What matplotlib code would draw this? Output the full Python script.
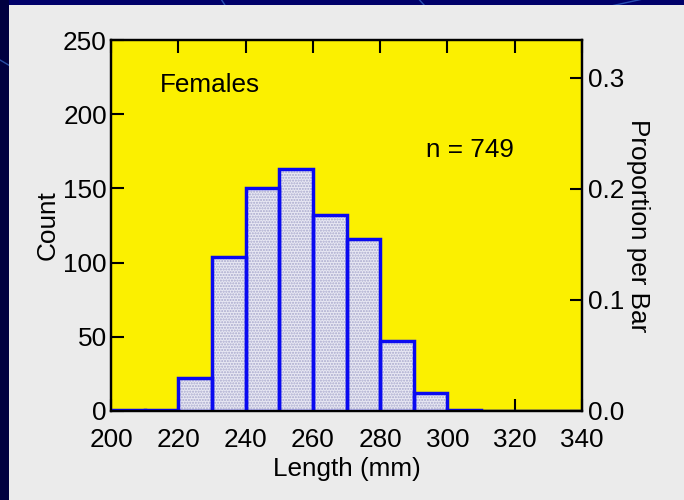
import matplotlib
matplotlib.use("Agg")
import matplotlib.pyplot as plt
from matplotlib import font_manager
from matplotlib.patches import Rectangle
from matplotlib.lines import Line2D
import numpy as np

# Female length histogram, 10 mm bins
bin_left = [200, 210, 220, 230, 240, 250, 260, 270, 280, 290, 300, 310, 320, 330]
counts = [1, 1, 22, 104, 150, 163, 132, 116, 47, 12, 1, 0, 0, 0]
bin_width = 10
x_ticks = [200, 220, 240, 260, 280, 300, 320, 340]
count_ticks = [0, 50, 100, 150, 200, 250]
prop_ticks = [0.0, 0.1, 0.2, 0.3]
group_label = "Females"
n_total = sum(counts)

available = {f.name for f in font_manager.fontManager.ttflist}
if "Liberation Sans Narrow" in available:
    family, fs = "Liberation Sans Narrow", 21
else:
    family, fs = "Liberation Sans", 18.8
plt.rcParams["font.family"] = family

W, H = 684, 500
fig = plt.figure(figsize=(W / 100, H / 100), dpi=100)
fig.patch.set_facecolor("#00006a")

# slide backdrop: faint streaks behind a light grey panel
for x0, x1, y0, y1 in [(0.30, 0.42, 1.05, 0.80), (0.60, 0.68, 1.02, 0.90),
                       (0.0, 0.05, 0.88, 0.84), (1.0, 0.80, 1.02, 0.96)]:
    fig.add_artist(Line2D([x0, x1], [y0, y1], transform=fig.transFigure,
                          color="#3a6fd0", lw=1.0, alpha=0.7, zorder=-2))
fig.add_artist(Rectangle((0, 0), 9 / W, 1, transform=fig.transFigure,
                         facecolor="#000040", edgecolor="none", zorder=-3))
fig.add_artist(Rectangle((9 / W, 0), 1 - 9 / W, 1 - 5 / H, transform=fig.transFigure,
                         facecolor="#ebebeb", edgecolor="none", zorder=-1))

left, right, top, bottom = 111, 582, 40, 411
ax = fig.add_axes([left / W, 1 - bottom / H, (right - left) / W, (bottom - top) / H])
ax.set_facecolor("#fbf000")
ax.set_axisbelow(True)

# bar fill, stipple texture, then blue outlines
ax.bar(bin_left, counts, width=bin_width, align="edge", color="#e8e8f3",
       edgecolor="none", linewidth=0, zorder=3)
ax.bar(bin_left, counts, width=bin_width, align="edge", facecolor="none",
       edgecolor="#a8a8cc", hatch="......", linewidth=0, zorder=3.1)
ax.bar(bin_left, counts, width=bin_width, align="edge", facecolor="none",
       edgecolor="#0a0af0", linewidth=2.5, zorder=3.2)

ax.set_xlim(200, 340)
ax.set_ylim(0, 250)
ax.set_xticks(x_ticks)
ax.set_yticks(count_ticks)
ax.tick_params(direction="in", length=9, width=1.5, labelsize=fs, colors="black",
               top=True, right=False)
ax.tick_params(axis="x", pad=12)
ax.tick_params(axis="y", pad=3)
for s in ax.spines.values():
    s.set_linewidth(1.6)

ax.set_xlabel("Length (mm)", fontsize=fs)
ax.set_ylabel("Count", fontsize=fs)
ax.xaxis.set_label_coords(0.5, -0.125)
ax.yaxis.set_label_coords(-0.11, 0.5)

ax.text(214.5, 220, group_label, fontsize=fs, va="center", ha="left")
ax.text(293.5, 176, f"n = {n_total}", fontsize=fs, va="center", ha="left")

ax2 = ax.twinx()
ax2.set_ylim(0, 250 / n_total)
ax2.set_yticks(prop_ticks)
ax2.set_yticklabels([f"{v:.1f}" for v in prop_ticks])
ax2.tick_params(direction="in", length=9, width=1.5, labelsize=fs, pad=4)
for s in ax2.spines.values():
    s.set_linewidth(1.6)
ax2.set_ylabel("Proportion per Bar", fontsize=fs, rotation=270)
ax2.yaxis.set_label_coords(1.145, 0.5)

fig.savefig("out.png", dpi=100, facecolor=fig.get_facecolor())
